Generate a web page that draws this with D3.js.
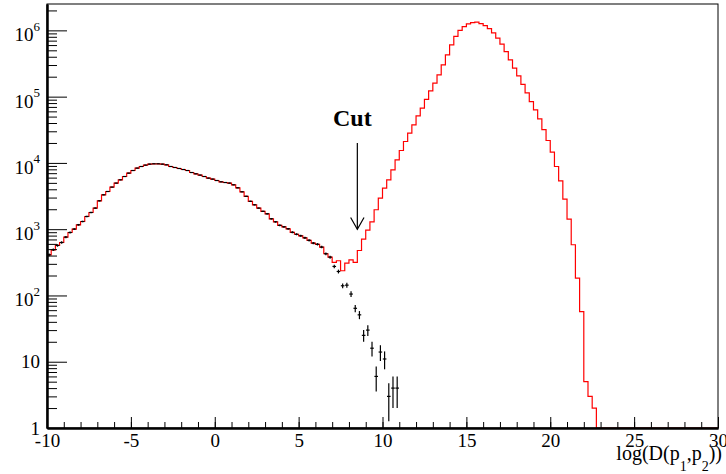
<!DOCTYPE html>
<html>
<head>
<meta charset="utf-8">
<script src="https://cdn.jsdelivr.net/npm/d3@7"></script>
<style>
	body { margin: 0; background: #fff; }
	svg text { font-family: "Liberation Serif", "Times New Roman", serif; fill: #000; }
</style>
</head>
<body>
<div id="chart"></div>
<script>
// histogram binning: 160 bins of 0.25 between -10 and 30
var binLow = -10;
var binHigh = 30;
var binWidth = 0.25;

// black points (drawn with sqrt(N) error bars), bins from -10 up to 11
var background = [
	411, 489, 568, 630, 760, 891, 1004, 1165, 1306, 1555,
	1786, 2081, 2681, 3302, 3705, 4318, 4960, 5560, 6234, 7015,
	7678, 8350, 8830, 9265, 9590, 9690, 9690, 9590, 9355, 8830,
	8530, 8240, 7950, 7678, 7163, 6850, 6550, 6234, 5900, 5700,
	5425, 5185, 5060, 4960, 4675, 4210, 3665, 3135, 2635, 2335,
	2081, 1862, 1707, 1435, 1293, 1145, 1087, 1014, 898, 838,
	795, 741, 680, 617, 592, 537, 426, 379, 274, 230,
	140, 143, 105, 64, 51, 25, 30, 16, 6, 14,
	11, 3, 4, 4
];

// red histogram, bins from -10 up to 22.75 (empty after)
var total = [
	411, 489, 568, 630, 760, 891, 1004, 1165, 1306, 1555,
	1786, 2081, 2681, 3302, 3705, 4318, 4960, 5560, 6234, 7015,
	7678, 8350, 8830, 9265, 9590, 9690, 9690, 9590, 9355, 8830,
	8530, 8240, 7950, 7678, 7163, 6850, 6550, 6234, 5900, 5700,
	5425, 5185, 5060, 4960, 4675, 4210, 3665, 3135, 2635, 2335,
	2081, 1862, 1707, 1435, 1293, 1145, 1087, 1014, 898, 838,
	795, 741, 680, 617, 592, 537, 426, 379, 315, 334,
	236, 308, 345, 315, 477, 709, 969, 1293, 1963, 2943,
	4168, 5560, 7870, 11140, 15390, 21030, 28130, 37580, 51300, 67100,
	91000, 122300, 159800, 213300, 301900, 426900, 604000, 811000, 1000000, 1140000,
	1253000, 1312000, 1330000, 1267000, 1178000, 1065000, 916000, 762000, 621000, 479000,
	359000, 269000, 206000, 153500, 114000, 84300, 63200, 46300, 31900, 21770,
	14560, 8830, 5370, 2845, 1420, 582, 183, 57, 5, 3,
	2
];

var xTickLabels = [-10, -5, 0, 5, 10, 15, 20, 25, 30];
var yTickPowers = [0, 1, 2, 3, 4, 5, 6];
var axisTitle = {base: "log(D(p", sub1: "1", mid: ",p", sub2: "2", end: "))"};
var cutLabel = "Cut";

var W = 726, H = 474;
var frame = {left: 47, right: 718, top: 4, bottom: 428};
var serif = '"Liberation Serif", "Times New Roman", serif';

var x = d3.scaleLinear().domain([binLow, binHigh]).range([frame.left, frame.right]);
var y = d3.scaleLog().domain([1, 2.5e6]).range([frame.bottom, frame.top]).clamp(true);

var svg = d3.select("#chart").append("svg")
		.attr("width", W)
		.attr("height", H);

var nBins = Math.round((binHigh - binLow) / binWidth);
function edge(i) { return binLow + i * binWidth; }

// red histogram outline (empty bins sit on the bottom of the frame)
var redPts = [];
for (var i = 0; i < nBins; i++) {
	redPts.push([edge(i), Math.max(total[i] || 0, 1)]);
}
redPts.push([binHigh, Math.max(total[nBins - 1] || 0, 1)]);

var step = d3.line()
		.curve(d3.curveStepAfter)
		.x(function(d) { return x(d[0]); })
		.y(function(d) { return y(d[1]); });

svg.append("path")
	.datum(redPts)
	.attr("fill", "none")
	.attr("stroke", "#ff0000")
	.attr("stroke-width", 1.2)
	.attr("d", step);

// black points: bin-wide bar + sqrt(N) vertical error
var pts = svg.append("g").attr("stroke", "#000").attr("stroke-width", 1.2);
background.forEach(function(v, i) {
	if (v <= 0) return;
	var err = Math.sqrt(v);
	var cx = x(edge(i) + binWidth / 2);
	pts.append("line")
		.attr("x1", x(edge(i)) + 0.3).attr("x2", x(edge(i + 1)) - 0.3)
		.attr("y1", y(v)).attr("y2", y(v));
	pts.append("line")
		.attr("x1", cx).attr("x2", cx)
		.attr("y1", y(Math.max(v - err, 1))).attr("y2", y(v + err));
});

// frame
svg.append("rect")
	.attr("x", frame.left).attr("y", frame.top)
	.attr("width", frame.right - frame.left).attr("height", frame.bottom - frame.top)
	.attr("fill", "none").attr("stroke", "#000").attr("stroke-width", 1);

// x axis, ticks pointing inward (plain hyphen for negatives, like the original)
var xMinor = d3.range(binLow, binHigh + 1, 1);
var gx = svg.append("g").attr("transform", "translate(0," + frame.bottom + ")");
gx.append("g")
	.call(d3.axisBottom(x).tickValues(xMinor).tickSizeInner(-6).tickSizeOuter(0).tickFormat(""));
gx.append("g")
	.call(d3.axisBottom(x).tickValues(xTickLabels).tickSizeInner(-11).tickSizeOuter(0).tickPadding(6)
		.tickFormat(function(d) { return String(d); }));
gx.selectAll("text").style("font-size", "19px").style("font-family", serif);
gx.selectAll(".domain").attr("stroke-width", 2);
gx.selectAll("line").attr("stroke", "#000");

// y axis, log ticks pointing inward
var yMinor = [];
yTickPowers.forEach(function(p) {
	for (var k = 2; k <= 9; k++) {
		var v = k * Math.pow(10, p);
		if (v <= y.domain()[1]) yMinor.push(v);
	}
});
var yMajor = yTickPowers.map(function(p) { return Math.pow(10, p); });
var gy = svg.append("g").attr("transform", "translate(" + frame.left + ",0)");
gy.append("g")
	.call(d3.axisLeft(y).tickValues(yMinor).tickSizeInner(-10).tickSizeOuter(0).tickFormat(""));
gy.append("g")
	.call(d3.axisLeft(y).tickValues(yMajor).tickSizeInner(-20).tickSizeOuter(0).tickFormat(""));
gy.selectAll(".domain").attr("stroke-width", 2);
gy.selectAll("line").attr("stroke", "#000");

// y labels: 1, 10, 10^2 ... 10^6
yTickPowers.forEach(function(p) {
	var ty = y(Math.pow(10, p));
	var t = svg.append("text")
		.attr("x", 40)
		.attr("text-anchor", "end")
		.attr("font-size", 19);
	if (p < 2) {
		t.attr("y", ty + 6.5).text(p === 0 ? "1" : "10");
	} else {
		t.attr("y", ty + 11);
		t.append("tspan").text("10");
		t.append("tspan").attr("font-size", 13).attr("dy", -10.5).text(p);
	}
});

// x axis title with subscripts
var title = svg.append("text")
		.attr("x", 722)
		.attr("y", 460)
		.attr("text-anchor", "end")
		.attr("font-size", 20);
title.append("tspan").text(axisTitle.base);
title.append("tspan").attr("font-size", 14).attr("dy", 11).text(axisTitle.sub1);
title.append("tspan").attr("dy", -11).text(axisTitle.mid);
title.append("tspan").attr("font-size", 14).attr("dy", 11).text(axisTitle.sub2);
title.append("tspan").attr("dy", -11).text(axisTitle.end);

// cut annotation: arrow at 8.5 pointing down
var cutX = x(8.5);
var cutTop = y(2e4), cutTip = y(1e3);
var ann = svg.append("g").attr("stroke", "#000").attr("stroke-width", 1.2).attr("fill", "none");
ann.append("line").attr("x1", cutX).attr("x2", cutX).attr("y1", cutTop).attr("y2", cutTip);
ann.append("path")
	.attr("d", "M" + (cutX - 6.7) + "," + (cutTip - 11.7) + "L" + cutX + "," + cutTip + "L" + (cutX + 6.7) + "," + (cutTip - 11.7));

svg.append("text")
	.attr("x", cutX - 5)
	.attr("y", 126)
	.attr("text-anchor", "middle")
	.attr("font-size", 24)
	.attr("font-weight", "bold")
	.text(cutLabel);
</script>
</body>
</html>
